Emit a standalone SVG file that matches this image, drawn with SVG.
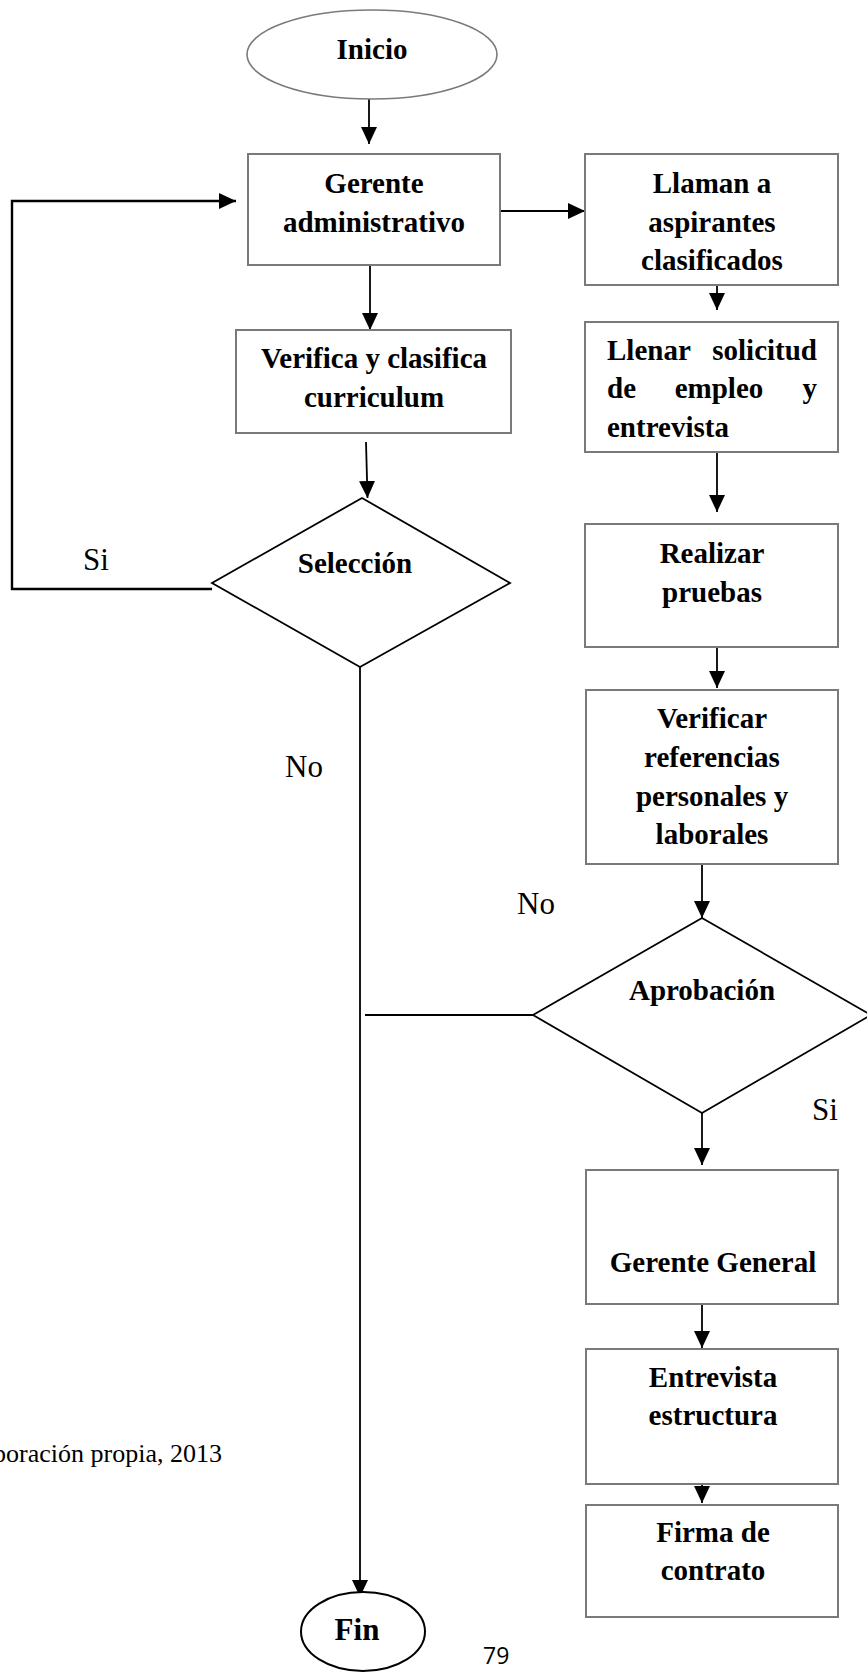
<svg xmlns="http://www.w3.org/2000/svg" width="867" height="1672" viewBox="0 0 867 1672">
  <style>
    .box { fill: #ffffff; stroke: #7a7a7a; stroke-width: 2; }
    .term { fill: #ffffff; stroke: #7a7a7a; stroke-width: 1.6; }
    .endterm { fill: #ffffff; stroke: #000000; stroke-width: 2; }
    .dec { fill: #ffffff; stroke: #000000; stroke-width: 1.8; }
    .lbl { font-family: "Liberation Serif", "Times New Roman", serif; font-weight: bold; font-size: 29px; fill: #000000; text-anchor: middle; }
    .lbl-l { font-family: "Liberation Serif", "Times New Roman", serif; font-weight: bold; font-size: 29px; fill: #000000; }
    .note { font-family: "Liberation Serif", "Times New Roman", serif; font-size: 31px; fill: #000000; }
    .cap { font-family: "Liberation Serif", "Times New Roman", serif; font-size: 26px; fill: #000000; text-anchor: end; }
    .page { font-family: "Open Sans", "Liberation Sans", sans-serif; font-size: 23px; fill: #000000; }
    .wire { fill: none; stroke: #000000; stroke-width: 1.8; }
    .wire-thick { fill: none; stroke: #000000; stroke-width: 2.4; }
  </style>
  <defs>
    <marker id="arrow" markerUnits="userSpaceOnUse" markerWidth="18" markerHeight="16" refX="17" refY="8" orient="auto">
      <path d="M0,0 L17,8 L0,16 Z" fill="#000000"/>
    </marker>
  </defs>

  <rect width="867" height="1672" fill="#ffffff"/>

  <!-- connectors -->
  <g id="connectors">
    <line class="wire" x1="369" y1="99" x2="369" y2="144" marker-end="url(#arrow)"/>
    <polyline class="wire-thick" points="212,589 12,589 12,201 236,201" marker-end="url(#arrow)"/>
    <line class="wire" x1="501" y1="211" x2="585" y2="211" marker-end="url(#arrow)"/>
    <line class="wire" x1="370" y1="265" x2="370" y2="330" marker-end="url(#arrow)"/>
    <line class="wire" x1="366" y1="442" x2="367.5" y2="498" marker-end="url(#arrow)"/>
    <line class="wire" x1="717" y1="285" x2="717" y2="310" marker-end="url(#arrow)"/>
    <line class="wire" x1="717" y1="452" x2="717" y2="512" marker-end="url(#arrow)"/>
    <line class="wire" x1="717" y1="647" x2="717" y2="688" marker-end="url(#arrow)"/>
    <line class="wire" x1="702" y1="864" x2="702" y2="918" marker-end="url(#arrow)"/>
    <line class="wire" x1="533" y1="1015" x2="365" y2="1015"/>
    <line class="wire" x1="360" y1="667" x2="360" y2="1597" marker-end="url(#arrow)"/>
    <line class="wire" x1="702" y1="1113" x2="702" y2="1165" marker-end="url(#arrow)"/>
    <line class="wire" x1="702" y1="1304" x2="702" y2="1348" marker-end="url(#arrow)"/>
    <line class="wire" x1="702" y1="1484" x2="702" y2="1503" marker-end="url(#arrow)"/>
  </g>

  <!-- start -->
  <g id="inicio">
    <ellipse class="term" cx="372" cy="54.5" rx="125" ry="44.5"/>
    <text class="lbl" x="372" y="59">Inicio</text>
  </g>

  <g id="gerente-administrativo">
    <rect class="box" x="248" y="154" width="252" height="111"/>
    <text class="lbl" x="374" y="193">Gerente</text>
    <text class="lbl" x="374" y="232">administrativo</text>
  </g>

  <g id="verifica">
    <rect class="box" x="236" y="330" width="275" height="103"/>
    <text class="lbl" x="374" y="368">Verifica y clasifica</text>
    <text class="lbl" x="374" y="407">curriculum</text>
  </g>

  <g id="seleccion">
    <polygon class="dec" points="362,498 510,583 360,667 212,583"/>
    <text class="lbl" x="355" y="573">Selección</text>
  </g>

  <g id="llaman">
    <rect class="box" x="585" y="154" width="253" height="131"/>
    <text class="lbl" x="712" y="193">Llaman a</text>
    <text class="lbl" x="712" y="232">aspirantes</text>
    <text class="lbl" x="712" y="270">clasificados</text>
  </g>

  <g id="llenar-solicitud">
    <rect class="box" x="585" y="322" width="253" height="130"/>
    <text class="lbl-l" x="607" y="360">Llenar</text>
    <text class="lbl-l" x="817" y="360" text-anchor="end">solicitud</text>
    <text class="lbl-l" x="607" y="398">de</text>
    <text class="lbl-l" x="719" y="398" text-anchor="middle">empleo</text>
    <text class="lbl-l" x="817" y="398" text-anchor="end">y</text>
    <text class="lbl-l" x="607" y="437">entrevista</text>
  </g>

  <g id="realizar-pruebas">
    <rect class="box" x="585" y="524" width="253" height="123"/>
    <text class="lbl" x="712" y="563">Realizar</text>
    <text class="lbl" x="712" y="602">pruebas</text>
  </g>

  <g id="verificar-referencias">
    <rect class="box" x="586" y="690" width="252" height="174"/>
    <text class="lbl" x="712" y="728">Verificar</text>
    <text class="lbl" x="712" y="767">referencias</text>
    <text class="lbl" x="712" y="806">personales y</text>
    <text class="lbl" x="712" y="844">laborales</text>
  </g>

  <g id="aprobacion">
    <polygon class="dec" points="702,918 871,1015 702,1113 533,1015"/>
    <text class="lbl" x="702" y="1000">Aprobación</text>
  </g>

  <g id="gerente-general">
    <rect class="box" x="586" y="1170" width="252" height="134"/>
    <text class="lbl" x="713" y="1272">Gerente General</text>
  </g>

  <g id="entrevista">
    <rect class="box" x="586" y="1349" width="252" height="135"/>
    <text class="lbl" x="713" y="1387">Entrevista</text>
    <text class="lbl" x="713" y="1425">estructura</text>
  </g>

  <g id="firma">
    <rect class="box" x="586" y="1505" width="252" height="112"/>
    <text class="lbl" x="713" y="1542">Firma de</text>
    <text class="lbl" x="713" y="1580">contrato</text>
  </g>

  <!-- end -->
  <g id="fin">
    <ellipse class="endterm" cx="363" cy="1631.5" rx="62" ry="39.5"/>
    <text class="lbl" x="357" y="1640" style="font-size:31px">Fin</text>
  </g>

  <!-- branch labels -->
  <g id="labels">
    <text class="note" x="83" y="570">Si</text>
    <text class="note" x="285" y="777">No</text>
    <text class="note" x="517" y="914">No</text>
    <text class="note" x="812" y="1120">Si</text>
  </g>

  <text class="cap" x="222" y="1462">Elaboración propia, 2013</text>
  <text class="page" x="483" y="1664">79</text>
</svg>
